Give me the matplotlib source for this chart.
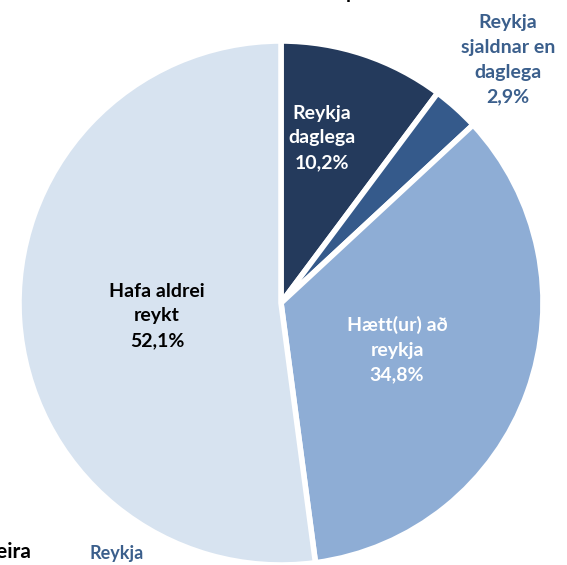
import matplotlib.pyplot as plt

plt.rcParams['font.family'] = ['Lato', 'DejaVu Sans']

labels = ["Reykja\ndaglega", "Reykja\nsjaldnar en\ndaglega", "Hætt(ur) að\nreykja", "Hafa aldrei\nreykt"]
shares = [10.2, 2.9, 34.8, 52.1]
colors = ["#243A5C", "#355A8B", "#8EADD5", "#D7E3F0"]
text_colors = ["white", "#3B5F8C", "white", "black"]

W, H = 567, 565
fig = plt.figure(figsize=(W / 100, H / 100), dpi=100)
ax = fig.add_axes([0, 0, 1, 1])

cx, cy, r = 281, H - 303, 262
ax.pie(shares, colors=colors, startangle=90, counterclock=False,
       center=(cx, cy), radius=r, frame=True,
       wedgeprops=dict(edgecolor="white", linewidth=4))
ax.set_xlim(0, W)
ax.set_ylim(0, H)
ax.set_aspect("equal")
ax.axis("off")

# label positions in picture pixels (x, y from top)
label_pos = [(322, 138), (508, 60), (397, 350), (157, 316)]
for lab, v, (x, y), tc in zip(labels, shares, label_pos, text_colors):
    txt = f"{lab}\n{v:.1f}%".replace(".", ",")
    ax.text(x, H - y, txt, ha="center", va="center", color=tc,
            fontsize=14, fontweight="bold", linespacing=1.55)

# fragments of neighbouring text cut by the frame
ax.text(351, H + 0.5, "p", ha="center", va="baseline", fontsize=14,
        fontweight="bold", color="black", clip_on=False)
ax.text(31, H - 552, "Fleira", ha="right", va="center", fontsize=15,
        fontweight="bold", color="black")
ax.text(117, H - 554, "Reykja", ha="center", va="center", fontsize=13,
        fontweight="bold", color="#3B5F8C")

fig.savefig("out.png", dpi=100)
